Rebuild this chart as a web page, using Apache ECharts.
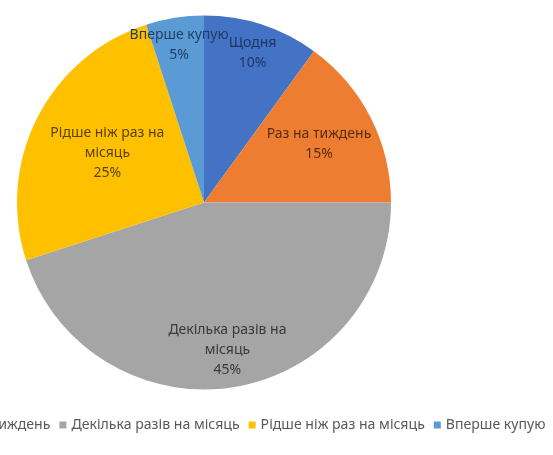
<!DOCTYPE html>
<html>
<head>
<meta charset="utf-8">
<script src="https://cdn.jsdelivr.net/npm/echarts@6/dist/echarts.min.js"></script>
<style>
  html, body { margin: 0; padding: 0; background: #fff; }
  #chart { width: 553px; height: 455px; }
</style>
</head>
<body>
<div id="chart"></div>
<script>
// Як часто купують: частки відповідей, %
const categories = ['Щодня', 'Раз на тиждень', 'Декілька разів на місяць', 'Рідше ніж раз на місяць', 'Вперше купую'];
const shares = [10, 15, 45, 25, 5];
// Підписи всередині секторів (з переносами рядків)
const sliceLabels = ['Щодня', 'Раз на тиждень', 'Декілька разів на\nмісяць', 'Рідше ніж раз на\nмісяць', 'Вперше купую'];

const colors = ['#4472C4', '#ED7D31', '#A5A5A5', '#FFC000', '#5B9BD5'];
const labelColors = ['#1f3563', '#5a2d0c', '#3a3a3a', '#5a4300', '#1f3f63'];
// Відстань підпису від центру як частка радіуса
const labelRadiusFrac = [0.84, 0.69, 0.80, 0.58, 0.85];

const CX = 204, CY = 202.5, R = 187;
const FONT = 'Noto Sans';

const total = shares.reduce((a, b) => a + b, 0);
const midAngles = [];
let acc = 0;
shares.forEach(v => { midAngles.push((acc + v / 2) / total * 2 * Math.PI); acc += v; });

const chart = echarts.init(document.getElementById('chart'), null, { renderer: 'canvas' });
chart.setOption({
  animation: false,
  backgroundColor: '#ffffff',
  color: colors,
  legend: {
    orient: 'horizontal',
    left: -141,
    top: 413,
    width: 1200,
    icon: 'rect',
    itemWidth: 7,
    itemHeight: 7,
    itemGap: 9,
    textStyle: { fontFamily: FONT, fontSize: 14.1, color: '#595959' },
    data: categories
  },
  series: [{
    type: 'pie',
    center: [CX, CY],
    radius: [0, R],
    startAngle: 90,
    clockwise: true,
    itemStyle: { borderWidth: 0 },
    label: {
      show: true,
      position: 'inside',
      fontFamily: FONT,
      fontSize: 14,
      lineHeight: 20,
      align: 'center',
      formatter: p => sliceLabels[p.dataIndex] + '\n' + p.value + '%'
    },
    labelLine: { show: false },
    labelLayout: p => {
      const i = p.dataIndex;
      const a = midAngles[i];
      const d = R * labelRadiusFrac[i];
      return {
        x: CX + d * Math.sin(a),
        y: CY - d * Math.cos(a),
        align: 'center',
        verticalAlign: 'middle'
      };
    },
    data: categories.map((name, i) => ({
      name: name,
      value: shares[i],
      label: { color: labelColors[i] }
    }))
  }]
});
</script>
</body>
</html>
